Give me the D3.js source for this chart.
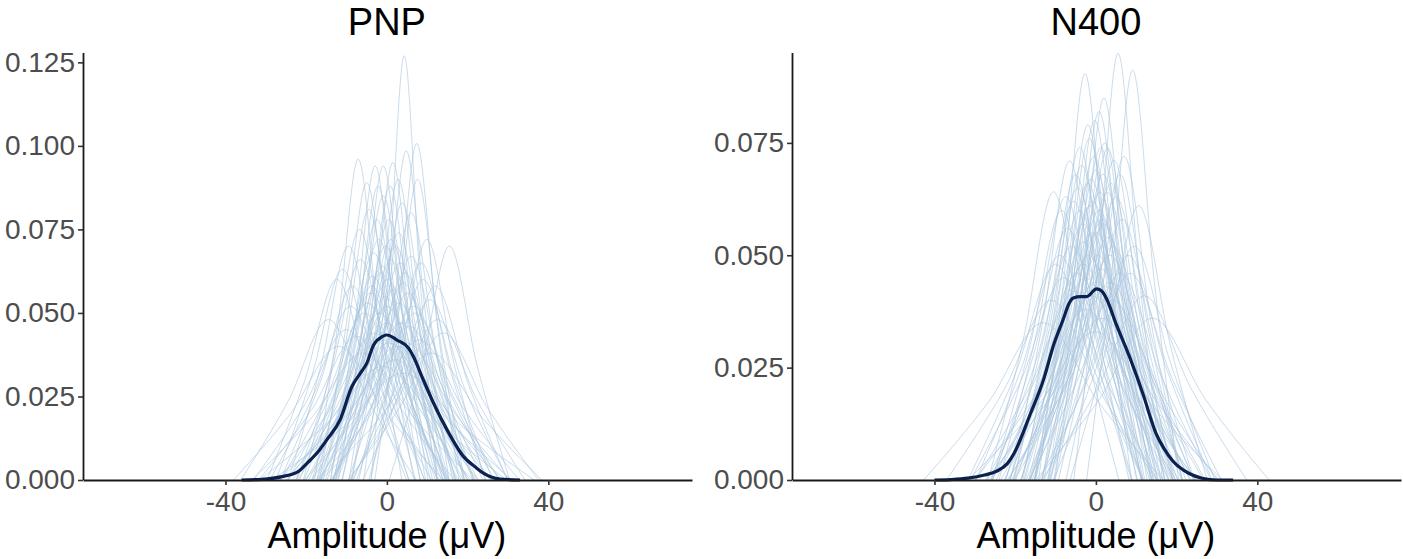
<!DOCTYPE html>
<html>
<head>
<meta charset="utf-8">
<script src="https://cdn.jsdelivr.net/npm/d3@7"></script>
<style>
  body { margin: 0; background: #fff; }
  text { font-family: "Liberation Sans", Arial, sans-serif; }
</style>
</head>
<body>
<div id="app"></div>
<script>
const width = 1403,
    height = 559;

const panelTitles = ["PNP", "N400"];
const xTitle = "Amplitude (\u03bcV)";
const xTicks = [-40, 0, 40];
const pnpYTicks = [0, 0.025, 0.05, 0.075, 0.1, 0.125];
const n400YTicks = [0, 0.025, 0.05, 0.075];

// each subject curve: [left foot, left half-max, peak x, peak density, right half-max, right foot]
const pnpCurves = [
    [-3.9, 0.6, 4.3, .127, 8.0, 12.5],
    [-17.9, -12.0, -7.1, .096, -2.2, 3.7],
    [-14.0, -7.9, -2.9, .094, 2.1, 8.2],
    [-12.0, -5.9, -0.9, .094, 4.1, 10.2],
    [-5.8, 0.0, 4.8, .0985, 9.6, 15.4],
    [-3.0, 2.7, 7.4, .1007, 12.1, 17.8],
    [-4.0, 2.4, 7.6, .090, 12.8, 19.2],
    [-13.1, -6.4, -0.9, .085, 4.6, 11.3],
    [-17.3, -10.3, -4.5, .081, 1.3, 8.3],
    [-11.2, -3.5, 2.9, .074, 9.3, 17.0],
    [-4.5, 3.4, 9.9, .072, 16.4, 24.3],
    [0.6, 8.8, 15.5, .070, 22.2, 30.4],
    [-18.6, -10.2, -3.3, .068, 3.6, 12.0],
    [-12.7, -4.0, 3.3, .065, 10.6, 19.3],
    [-29.7, -20.3, -12.4, .060, -4.5, 4.9],
    [-8.6, 2.0, 10.7, .054, 19.4, 30.0],
    [-13.5, -3.9, 4.1, .059, 12.1, 21.7],
    [-13.4, -2.4, 6.6, .052, 15.6, 26.6],
    [-26.4, -16.6, -8.5, .058, -0.4, 9.4],
    [-12.8, -5.5, 0.5, .078, 6.5, 13.8],
    [-18.3, -9.1, -1.5, .062, 6.1, 15.3],
    [-16.4, -6.4, 1.8, .057, 10.0, 20.0],
    [-26.3, -14.9, -5.5, .050, 3.9, 15.3],
    [-22.1, -10.0, 0, .047, 10.0, 22.1],
    [-17.1, -4.7, 5.5, .046, 15.7, 28.1],
    [-26.6, -13.7, -3.0, .044, 7.7, 20.6],
    [-23.5, -9.3, 2.5, .040, 14.3, 28.5],
    [-33.4, -18.4, -6.0, .038, 6.4, 21.4],
    [-16.8, -3.2, 8.0, .042, 19.2, 32.8],
    [-31.6, -14.8, -1.0, .034, 12.8, 29.6],
    [-28.5, -10.7, 4.0, .032, 18.7, 36.5],
    [-33.1, -20.4, -10.0, .045, 0.4, 13.1],
    [-9.2, 2.7, 12.5, .048, 22.3, 34.2],
    [-16.4, -8.5, -2.0, .072, 4.5, 12.4],
    [-14.8, -6.1, 1.0, .066, 8.1, 16.8],
    [-22.3, -13.6, -6.5, .066, 0.6, 9.3],
    [-9.5, -1.0, 6.0, .067, 13.0, 21.5],
    [-22.6, -12.4, -4.0, .056, 4.4, 14.6],
    [-16.6, -5.9, 3.0, .053, 11.9, 22.6],
    [-19.4, -9.0, -0.5, .055, 8.0, 18.4],
    [-8.3, 1.2, 9.0, .060, 16.8, 26.3],
    [-24.4, -16.2, -9.5, .070, -2.8, 5.4],
    [-11.0, -4.5, 0.8, .088, 6.1, 12.6],
    [-22.6, -11.2, -1.8, .050, 7.6, 19.0],
    [-20.4, -6.5, 5.0, .041, 16.5, 30.4],
    [-31.7, -18.4, -7.5, .043, 3.4, 16.7],
    [-26.9, -11.1, 2.0, .036, 15.1, 30.9],
    [-20.5, -11.2, -3.5, .061, 4.2, 13.5],
    [-13.8, -2.4, 7.0, .050, 16.4, 27.8],
    [-38.0, -23.8, -12.0, .040, -0.2, 14.0],
    [-16.4, -1.4, 11.0, .038, 23.4, 38.4],
    [-17.1, -7.6, 0.2, .060, 8.0, 17.5],
    [-15.8, -8.5, -2.5, .078, 3.5, 10.8],
    [-8.7, -1.9, 3.8, .083, 9.5, 16.3],
    [-16.7, -10.3, -5.0, .089, 0.3, 6.7],
    [-9.4, -3.4, 1.5, .095, 6.4, 12.4],
    [-36.2, -24.3, -14.5, .048, -4.7, 7.2],
    [-9.6, 3.3, 14.0, .044, 24.7, 37.6],
    [-17.4, -8.5, -1.2, .064, 6.1, 15.0],
    [-12.7, -4.5, 2.2, .070, 8.9, 17.1],
    [-21.7, -11.9, -3.8, .058, 4.3, 14.1],
    [-20.0, -9.0, 0, .052, 9.0, 20.0],
    [-12.3, -3.1, 4.5, .062, 12.1, 21.3],
    [-20.7, -13.1, -6.8, .075, -0.5, 7.1],
    [-7.0, 0.1, 6.0, .080, 11.9, 19.0],
    [-24.6, -11.7, -1.0, .044, 9.7, 22.6],
    [-18.6, -6.5, 3.5, .047, 13.5, 25.6],
    [-24.4, -13.7, -4.8, .053, 4.1, 14.8],
    [-7.5, 1.2, 8.5, .065, 15.8, 24.5],
    [-29.0, -18.0, -9.0, .052, 0.0, 11.0],
    [-13.4, -5.5, 1.0, .072, 7.5, 15.4],
    [-14.0, -7.5, -2.2, .088, 3.1, 9.6],
    [-8.8, -2.4, 2.8, .090, 8.0, 14.4],
    [-13.4, -3.2, 5.2, .056, 13.6, 23.8],
    [-15.2, -7.0, -0.3, .070, 6.4, 14.6],
    [-5.9, 3.9, 12.0, .058, 20.1, 29.9],
    [-27.5, -18.5, -11.0, .063, -3.5, 5.5],
    [-24.9, -11.0, 0.5, .041, 12.0, 25.9]
];

const n400Curves = [
    [-5.5, 0.5, 5.5, .0949, 10.5, 16.5],
    [-14.2, -7.9, -2.7, .0904, 2.5, 8.8],
    [-2.3, 3.9, 9.1, .0912, 14.3, 20.5],
    [-26.7, -17.8, -10.5, .0641, -3.2, 5.7],
    [-15.3, -7.8, -1.6, .076, 4.6, 12.1],
    [-11.2, -3.5, 2.9, .0738, 9.3, 17.0],
    [-10.1, -2.1, 4.5, .0711, 11.1, 19.1],
    [-15.1, -6.8, 0, .069, 6.8, 15.1],
    [-6.4, 2.9, 10.6, .061, 18.3, 27.6],
    [-10.5, -4.5, 0.6, .058, 5.7, 11.7],
    [-17.8, -9.1, -2.0, .066, 5.1, 13.8],
    [-15.2, -6.3, 1.0, .064, 8.3, 17.2],
    [-21.3, -11.8, -4.0, .060, 3.8, 13.3],
    [-16.2, -6.2, 2.0, .057, 10.2, 20.2],
    [-19.9, -9.5, -1.0, .055, 7.5, 17.9],
    [-26.0, -15.0, -6.0, .052, 3.0, 14.0],
    [-17.3, -5.9, 3.5, .050, 12.9, 24.3],
    [-24.7, -12.8, -3.0, .048, 6.8, 18.7],
    [-16.6, -4.2, 6.0, .046, 16.2, 28.6],
    [-31.1, -18.4, -8.0, .045, 2.4, 15.1],
    [-23.6, -10.7, 0, .044, 10.7, 23.6],
    [-29.8, -16.2, -5.0, .042, 6.2, 19.8],
    [-22.0, -7.8, 4.0, .040, 15.8, 30.0],
    [-29.9, -14.9, -2.5, .038, 9.9, 24.9],
    [-27.4, -11.6, 1.5, .036, 14.6, 30.4],
    [-37.0, -22.8, -11.0, .040, 0.8, 15.0],
    [-13.4, 0.5, 12.0, .041, 23.5, 37.4],
    [-14.9, -7.0, -0.5, .072, 6.0, 13.9],
    [-18.4, -10.2, -3.5, .070, 3.2, 11.4],
    [-13.5, -5.1, 1.8, .068, 8.7, 17.1],
    [-22.3, -13.1, -5.5, .062, 2.1, 11.3],
    [-11.4, -1.6, 6.5, .058, 14.6, 24.4],
    [-18.5, -9.2, -1.5, .061, 6.2, 15.5],
    [-16.3, -5.7, 3.0, .054, 11.7, 22.3],
    [-25.6, -15.4, -7.0, .056, 1.4, 11.6],
    [-20.3, -8.9, 0.5, .050, 9.9, 21.3],
    [-12.8, -1.4, 8.0, .050, 17.4, 28.8],
    [-27.1, -14.7, -4.5, .046, 5.7, 18.1],
    [-21.7, -8.4, 2.5, .043, 13.4, 26.7],
    [-26.4, -12.5, -1.0, .041, 10.5, 24.4],
    [-29.8, -18.4, -9.0, .050, 0.4, 11.8],
    [-11.5, -2.5, 5.0, .063, 12.5, 21.5],
    [-15.2, -7.9, -2.0, .079, 3.9, 11.2],
    [-11.9, -4.9, 0.8, .082, 6.5, 13.5],
    [-21.2, -13.1, -6.5, .071, 0.1, 8.2],
    [-12.0, -3.3, 3.8, .066, 10.9, 19.6],
    [-22.6, -11.9, -3.0, .053, 5.9, 16.6],
    [-20.9, -8.8, 1.2, .047, 11.2, 23.3],
    [-42.7, -26.5, -13.0, .035, 0.5, 16.7],
    [-14.9, 0.9, 14.0, .036, 27.1, 42.9],
    [-31.7, -14.4, -0.2, .033, 14.0, 31.3],
    [-7.4, 0.5, 7.0, .072, 13.5, 21.4],
    [-25.8, -16.3, -8.5, .060, -0.7, 8.8],
    [-11.7, -4.1, 2.2, .075, 8.5, 16.1],
    [-20.5, -11.8, -4.5, .065, 2.8, 11.5],
    [-10.5, 0.5, 9.5, .052, 18.5, 29.5],
    [-17.6, -8.4, -0.8, .062, 6.8, 16.0],
    [-16.3, -6.5, 1.6, .058, 9.7, 19.5],
    [-21.4, -11.4, -3.2, .057, 5.0, 15.0],
    [-18.7, -8.3, 0.2, .055, 8.7, 19.1],
    [-13.4, -4.5, 2.8, .064, 10.1, 19.0],
    [-20.3, -11.9, -5.0, .068, 1.9, 10.3],
    [-15.8, -4.8, 4.2, .052, 13.2, 24.2],
    [-22.6, -11.2, -1.8, .050, 7.6, 19.0],
    [-24.0, -15.0, -7.5, .063, 0.0, 9.0],
    [-9.3, -0.9, 6.0, .068, 12.9, 21.3],
    [-13.3, -6.2, -0.3, .080, 5.6, 12.7],
    [-12.9, -5.2, 1.2, .074, 7.6, 15.3],
    [-25.7, -13.0, -2.6, .045, 7.8, 20.5],
    [-20.1, -7.2, 3.5, .044, 14.2, 27.1],
    [-31.7, -19.8, -10.0, .048, -0.2, 11.7],
    [-14.1, -1.7, 8.5, .046, 18.7, 31.1],
    [-16.7, -8.2, -1.2, .067, 5.8, 14.3],
    [-16.5, -7.0, 0.8, .060, 8.6, 18.1],
    [-18.1, -10.4, -4.0, .074, 2.4, 10.1],
    [-10.2, -3.5, 2.0, .085, 7.5, 14.2]
];

// grand mean density
const pnpMeanX = [-36, -31, -26, -22, -19.8, -17, -14.9, -11.6, -8.7, -6.6, -5, -3.3, -1.2, 0, 2.5, 5.4, 6.6, 8.7, 11.6, 14.9, 19, 22, 24, 28, 33];
const pnpMeanY = [0, 0.0002, 0.001, 0.0025, 0.005, 0.0085, 0.012, 0.018, 0.0279, 0.0319, 0.0349, 0.0404, 0.0429, 0.0434, 0.0419, 0.0394, 0.0369, 0.0309, 0.0229, 0.015, 0.007, 0.0038, 0.002, 0.0003, 0];
const n400MeanX = [-40, -36, -31.7, -27.6, -24.5, -21.9, -20.3, -16.2, -12.9, -10.5, -8, -6.8, -5.6, -3.8, -2.3, 0.2, 1.5, 2.6, 5.1, 8.3, 11.6, 14.9, 17, 18.9, 23, 26.3, 30, 34];
const n400MeanY = [0, 0.0001, 0.0004, 0.0011, 0.002, 0.0037, 0.0059, 0.0148, 0.0225, 0.0300, 0.0360, 0.0390, 0.0405, 0.0408, 0.0408, 0.0425, 0.0420, 0.0404, 0.0345, 0.0275, 0.0193, 0.0104, 0.0068, 0.0044, 0.0015, 0.0004, 0, 0];

const xDomain = [-75.3, 75.6];

const svg = d3.select("#app")
    .append("svg")
    .attr("width", width)
    .attr("height", height);

function drawPanel(title, curves, meanX, meanY, yTicks, yMax, left, right) {
    const top = 53, bottom = 480;
    const x = d3.scaleLinear().domain(xDomain).range([left, right]);
    const y = d3.scaleLinear().domain([0, yMax]).range([bottom, top]);
    const g = svg.append("g");

    const line = d3.line()
        .x(d => x(d[0]))
        .y(d => y(d[1]))
        .curve(d3.curveMonotoneX);

    // subject curves
    g.append("g").selectAll("path")
        .data(curves).enter()
        .append("path")
        .attr("d", c => line([[c[0], 0], [c[1], c[3] / 2], [c[2], c[3]], [c[4], c[3] / 2], [c[5], 0]]))
        .attr("fill", "none")
        .attr("stroke", "#a9c5de")
        .attr("stroke-opacity", 0.6)
        .attr("stroke-width", 1);

    // mean curve
    g.append("path")
        .attr("d", line(meanX.map((v, i) => [v, meanY[i]])))
        .attr("fill", "none")
        .attr("stroke", "#0b2150")
        .attr("stroke-width", 3.2)
        .attr("stroke-linejoin", "round");

    // y axis
    const yAxis = g.append("g")
        .attr("transform", `translate(${left}, 0)`)
        .call(d3.axisLeft(y).tickValues(yTicks).tickFormat(d3.format(".3f")).tickSize(5).tickSizeOuter(0).tickPadding(3));
    yAxis.select(".domain").attr("stroke", "#1a1a1a").attr("stroke-width", 1.8)
        .attr("d", `M0.5,${top}V${bottom}`);
    yAxis.selectAll(".tick line").attr("stroke", "#333").attr("stroke-width", 1.6);
    yAxis.selectAll(".tick text").attr("fill", "#4d4d4d").style("font-size", "28px")
        .style("font-family", "'Liberation Sans', Arial, sans-serif");

    // x axis
    const xAxis = g.append("g")
        .attr("transform", `translate(0, ${bottom})`)
        .call(d3.axisBottom(x).tickValues(xTicks).tickFormat(d => String(d)).tickSize(5).tickSizeOuter(0).tickPadding(6));
    xAxis.select(".domain").attr("stroke", "#1a1a1a").attr("stroke-width", 1.8);
    xAxis.selectAll(".tick line").attr("stroke", "#333").attr("stroke-width", 1.6);
    xAxis.selectAll(".tick text").attr("fill", "#4d4d4d").style("font-size", "28px")
        .style("font-family", "'Liberation Sans', Arial, sans-serif");

    const cx = x(0);
    g.append("text")
        .attr("x", cx)
        .attr("y", 35)
        .attr("text-anchor", "middle")
        .style("font-size", "38px")
        .attr("fill", "#000")
        .text(title);

    g.append("text")
        .attr("x", cx)
        .attr("y", 548)
        .attr("text-anchor", "middle")
        .style("font-size", "36px")
        .attr("fill", "#000")
        .text(xTitle);
}

drawPanel(panelTitles[0], pnpCurves, pnpMeanX, pnpMeanY, pnpYTicks, 0.1278, 83, 692);
drawPanel(panelTitles[1], n400Curves, n400MeanX, n400MeanY, n400YTicks, 0.0950, 792, 1401);
</script>
</body>
</html>
